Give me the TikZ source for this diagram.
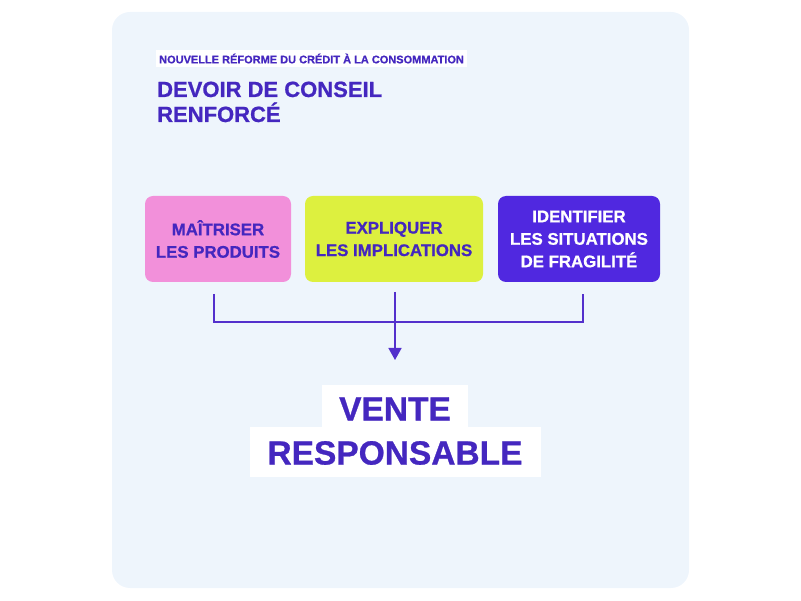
\documentclass[tikz,border=0pt]{standalone}
\usepackage{fontspec}
\setmainfont{Liberation Sans}[BoldFeatures={FakeBold=0.8}]
\usetikzlibrary{arrows.meta}
\definecolor{panel}{HTML}{EEF5FC}
\definecolor{ink}{HTML}{4427BF}
\definecolor{pinkbox}{HTML}{F290DA}
\definecolor{limebox}{HTML}{DDF03F}
\definecolor{violetbox}{HTML}{5028E0}
\definecolor{wire}{HTML}{5330CC}
\tikzset{
  card/.style={rounded corners=8pt, minimum height=86pt, align=center, inner sep=0pt,
    font=\fontsize{16.8}{22.5}\selectfont\bfseries, text=ink},
  result/.style={fill=white, inner sep=0pt, text=ink,
    font=\fontsize{33.5}{40}\selectfont\bfseries},
  wireline/.style={draw=wire, line width=1.5pt}
}
\begin{document}
\begin{tikzpicture}[x=1pt,y=-1pt]
\useasboundingbox (0,0) rectangle (801,601);
\fill[panel, rounded corners=18pt] (112,12) rectangle (689,588);

\node[fill=white, anchor=west, inner xsep=3.5pt, inner ysep=0pt, minimum height=17pt,
  text=ink, font=\fontsize{11}{13}\selectfont\bfseries] (sub) at (155.5,58.5)
  {NOUVELLE RÉFORME DU CRÉDIT À LA CONSOMMATION};
\node[anchor=base west, align=left, inner sep=0pt, text=ink,
  font=\fontsize{22}{25}\selectfont\bfseries] (title) at (157,122)
  {DEVOIR DE CONSEIL\\RENFORCÉ};

\node[card, fill=pinkbox, minimum width=146pt] (b1) at (218,239) {MAÎTRISER\\LES PRODUITS};
\node[card, fill=limebox, minimum width=178pt] (b2) at (394,239) {EXPLIQUER\\LES IMPLICATIONS};
\node[card, fill=violetbox, minimum width=162pt, text=white] (b3) at (579,239) {IDENTIFIER\\LES SITUATIONS\\DE FRAGILITÉ};

\coordinate (s1) at (214,294);
\coordinate (s2) at (395,292);
\coordinate (s3) at (583,294);
\coordinate (j1) at (214,322);
\coordinate (j3) at (583,322);
\coordinate (tip) at (395,360);
\draw[wireline] (s1) -- (j1) -- (j3) -- (s3);
\draw[wireline, -{Triangle[width=13pt,length=12pt]}] (s2) -- (tip);

\node[result, minimum width=291pt, minimum height=50pt] (r2) at (395.5,452) {};
\node[result, minimum width=146pt, minimum height=42pt] (r1) at (395,406) {};
\node[result, fill=none] (v) at (395,409) {VENTE};
\node[result, fill=none] (r) at (395,453) {RESPONSABLE};
\end{tikzpicture}
\end{document}
